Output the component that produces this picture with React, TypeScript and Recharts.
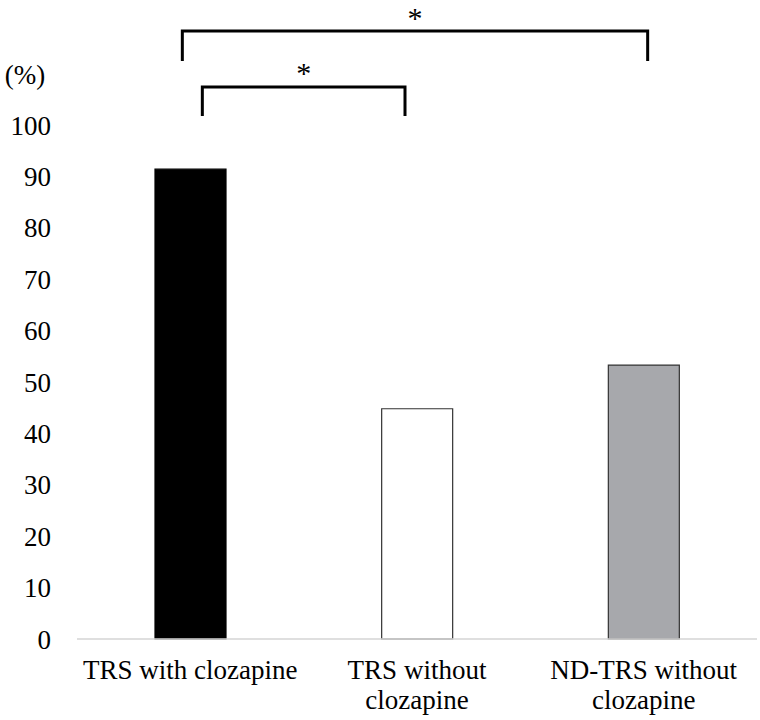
import { BarChart, Bar, XAxis, YAxis, Cell } from "recharts";

// values
const categories = ["TRS with clozapine", "TRS without clozapine", "ND-TRS without clozapine"];
const tickLines = [["TRS with clozapine"], ["TRS without", "clozapine"], ["ND-TRS without", "clozapine"]];
const percents = [91.4, 44.8, 53.3];
const fills = ["#000000", "#ffffff", "#a7a8ac"];
const yTicks = [0, 10, 20, 30, 40, 50, 60, 70, 80, 90, 100];

const data = categories.map((name, i) => ({ name, value: percents[i] }));

const W = 760;
const H = 720;
const M = { top: 125, right: 3, bottom: 0, left: 0 };
const Y_W = 77;
const X_H = 81;
const FONT = "'Liberation Serif', 'Times New Roman', serif";

// plot geometry, used only to hang the significance brackets on the bars
const plotX = M.left + Y_W;
const plotW = W - plotX - M.right;
const band = plotW / categories.length;
const cx = (i: number) => plotX + band * (i + 0.5);

const XTick = (props: any) => {
  const { x, y, index } = props;
  const lines = tickLines[index] || [];
  return (
    <text x={x} y={y} textAnchor="middle" fontFamily={FONT} fontSize={27} fill="#000">
      {lines.map((l, k) => (
        <tspan key={k} x={x} dy={k === 0 ? 40 : 30}>
          {l}
        </tspan>
      ))}
    </text>
  );
};

const Bracket = ({ x1, x2, y, leg }: { x1: number; x2: number; y: number; leg: number }) => (
  <path
    d={`M${x1},${y + leg} L${x1},${y} L${x2},${y} L${x2},${y + leg}`}
    fill="none"
    stroke="#000"
    strokeWidth={3}
  />
);

export default function App() {
  return (
    <div style={{ position: "absolute", left: 0, top: 0, width: W, height: H, background: "#fff" }}>
      <BarChart width={W} height={H} data={data} margin={M}>
        <XAxis
          dataKey="name"
          height={X_H}
          axisLine={{ stroke: "#d4d4d4", strokeWidth: 1.5 }}
          tickLine={false}
          tickSize={0}
          tickMargin={0}
          interval={0}
          tick={<XTick />}
        />
        <YAxis
          width={Y_W}
          domain={[0, 100]}
          ticks={yTicks}
          axisLine={false}
          tickLine={false}
          tickSize={0}
          tickMargin={26}
          tick={{ fontFamily: FONT, fontSize: 27, fill: "#000" }}
        />
        <Bar dataKey="value" barSize={71} stroke="#333" strokeWidth={1.2} isAnimationActive={false}>
          {data.map((d, i) => (
            <Cell key={d.name} fill={fills[i]} stroke={i === 0 ? "#000" : "#333"} />
          ))}
        </Bar>
      </BarChart>
      <svg
        width={W}
        height={H}
        style={{ position: "absolute", left: 0, top: 0, pointerEvents: "none" }}
      >
        <text x={25} y={84} textAnchor="middle" fontFamily={FONT} fontSize={27} fill="#000">
          (%)
        </text>
        <Bracket x1={cx(0) - 8} x2={cx(2) + 4} y={31} leg={30} />
        <text x={(cx(0) - 8 + cx(2) + 4) / 2} y={28} textAnchor="middle" fontFamily={FONT} fontSize={30} fill="#000">
          *
        </text>
        <Bracket x1={cx(0) + 12} x2={cx(1) - 12} y={87} leg={29} />
        <text x={(cx(0) + 12 + cx(1) - 12) / 2} y={83} textAnchor="middle" fontFamily={FONT} fontSize={30} fill="#000">
          *
        </text>
      </svg>
    </div>
  );
}
